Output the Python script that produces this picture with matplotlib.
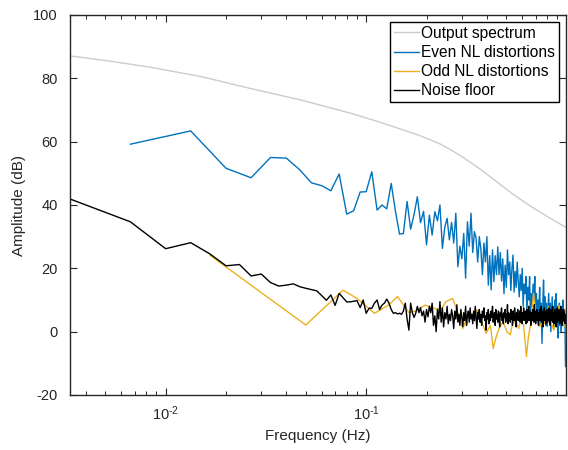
import numpy as np
import matplotlib
matplotlib.use("Agg")
import matplotlib.pyplot as plt
from matplotlib.ticker import FixedLocator, FuncFormatter, LogLocator, NullFormatter

plt.rcParams['font.family'] = ['Liberation Sans', 'DejaVu Sans']
plt.rcParams['mathtext.default'] = 'regular'
plt.rcParams['axes.unicode_minus'] = False

f0 = 1.0 / 300.0  # frequency resolution (Hz)

# Output spectrum (smooth curve): frequency (Hz) and amplitude (dB)
out_f = [0.00333, 0.0053, 0.0084, 0.0149, 0.0265, 0.047, 0.0835, 0.1177, 0.148, 0.180, 0.209,
         0.235, 0.263, 0.305, 0.371, 0.451, 0.543, 0.661, 0.813, 0.987]
out_db = [87.1, 85.4, 83.5, 80.6, 76.8, 73.2, 69.0, 66.1, 64.0, 62.2, 60.6,
          59.2, 57.5, 55.0, 51.3, 47.2, 43.3, 39.6, 36.1, 33.0]

# Even nonlinear distortions (even lines 2..296)
even_db = [59.2, 63.4, 51.6, 48.6, 55.0, 54.8, 51.1, 47.0, 46.1, 44.5,
           49.8, 37.1, 38.2, 44.1, 44.2, 50.5, 38.4, 40.0, 38.8, 46.8,
           38.0, 30.8, 31.0, 41.1, 32.4, 37.0, 42.6, 34.4, 38.0, 27.4,
           36.8, 30.5, 37.9, 35.0, 40.0, 26.3, 33.0, 35.8, 29.0, 34.5,
           28.0, 37.4, 20.5, 27.0, 23.0, 31.0, 16.9, 34.7, 27.0, 37.4,
           25.0, 31.6, 29.5, 22.0, 30.0, 26.0, 18.0, 28.0, 22.0, 30.0,
           14.7, 24.0, 13.2, 25.8, 15.8, 24.0, 18.0, 26.8, 18.0, 25.0,
           16.0, 23.0, 12.0, 21.0, 14.0, 25.8, 18.0, 22.0, 13.0, 20.0,
           24.2, 12.5, 19.0, 14.0, 22.0, 16.0, 11.0, 18.0, 13.0, 20.0,
           8.0, 15.0, 12.0, 17.4, 6.0, 14.0, 10.0, 17.4, 4.0, 12.0,
           8.0, 15.0, 10.0, 17.4, 6.0, 12.0, 3.0, 10.0, 5.8, 14.0,
           2.0, 9.0, -3.7, 8.0, 16.3, 6.0, 11.0, 2.0, 9.0, 1.6,
           7.0, 12.1, 4.0, 9.0, 0.0, 6.0, 11.0, 3.0, 8.0, 1.5,
           10.0, 5.0, 12.0, 3.0, 8.0, -2.0, 6.0, 9.0, 2.0, 7.0,
           0.0, 8.0, 3.0, 10.0, 2.0, 7.0, 4.0, -11.0]
even_k = np.arange(2, 297, 2)

# Odd nonlinear distortions (non-excited odd lines)
odd_k = [5, 15, 23, 27, 33, 39, 43, 49, 53, 59, 65, 71, 75, 81, 87, 91, 97, 103, 107, 113,
         119, 125, 129, 133, 139, 145, 151, 157, 161, 167, 173, 177, 183, 189, 193, 199, 205,
         211, 215, 221, 227, 233, 237, 243, 249, 253, 259, 265, 271, 275, 281, 287, 291, 295]
odd_db = [24.1, 2.1, 13.1, 10.5, 5.8, 8.5, 11.1, 6.0, 6.5, 8.4, 7.4, 7.0, 9.5, 10.5, 5.0, 1.0,
          5.5, 4.0, 6.9, 3.0, -0.5, 2.0, -5.3, -2.0, 1.6, 3.0, 0.0, -1.0, 2.5, 3.7, 1.0, 4.0,
          2.0, -7.9, -2.0, 3.0, 12.1, 6.0, 3.0, 1.6, 4.0, 2.5, 5.0, 7.9, 4.0, 2.0, 0.5, 4.0,
          5.5, 8.4, 5.0, 3.0, 1.6, 7.0]

# Noise floor (all lines 1..296)
noise_db = [41.9, 34.7, 26.2, 28.1, 24.5, 20.8, 21.2, 17.6, 18.2, 15.5,
            14.4, 14.7, 15.1, 14.2, 13.7, 13.3, 12.9, 11.4, 9.9, 11.6,
            8.3, 12.1, 10.7, 9.4, 9.4, 9.6, 9.8, 7.6, 10.0, 5.8,
            7.4, 7.4, 9.0, 10.0, 7.0, 8.4, 9.0, 10.3, 9.0, 7.0,
            5.8, 6.0, 5.6, 5.8, 5.5, 6.5, 9.0, 4.0, 0.5, 9.0,
            6.0, 4.5, 5.8, 8.0, 6.0, 7.6, 5.0, 6.5, 3.0, 7.0,
            4.7, 8.0, 6.0, 9.0, 2.0, 5.0, 0.0, 7.0, 4.0, 9.5,
            3.0, 7.5, 1.5, 6.0, 4.0, 8.0, 2.5, 5.5, 3.5, 7.0,
            5.0, 1.0, 6.5, 4.0, 8.5, 3.0, 5.5, 2.0, 7.0, 4.5,
            1.6, 6.0, 3.5, 8.0, 2.0, 5.0, 6.5, 3.0, 7.5, 4.0,
            5.5, 2.5, 6.5, 3.5, 8.0, 4.5, 1.0, 6.0, 4.0, 7.0,
            3.0, 5.5, 2.0, 6.5, 4.5, 7.5, 3.5, 5.0, 0.5, 6.0,
            4.0, 7.0, 2.5, 5.5, 3.5, 6.5, 4.5, 8.0, 3.0, 5.0,
            6.0, 2.0, 7.0, 4.0, 5.5, 3.0, 6.5, 4.5, 1.5, 6.0,
            5.0, 7.5, 3.5, 5.5, 2.5, 6.0, 4.5, 7.0, 3.0, 5.5,
            4.0, 8.5, 2.5, 6.0, 4.5, 5.5, 3.0, 7.0, 4.0, 6.5,
            2.0, 5.0, 6.5, 3.5, 7.5, 4.5, 5.5, 1.5, 6.0, 4.0,
            7.0, 3.5, 5.5, 4.0, 6.5, 3.0, 8.0, 4.5, 5.0, 2.5,
            6.0, 4.0, 7.5, 3.5, 5.5, 4.5, 6.5, 2.5, 5.0, 7.0,
            3.0, 6.0, 4.5, 8.0, 3.5, 5.0, 6.5, 4.0, 2.0, 6.0,
            5.5, 3.5, 7.0, 4.5, 6.0, 3.0, 8.5, 4.0, 5.5, 2.5,
            6.5, 4.5, 7.0, 3.5, 5.0, 6.0, 2.0, 5.5, 4.0, 7.0,
            3.5, 6.0, 4.5, 8.0, 3.0, 5.5, 6.5, 4.0, 1.5, 6.0,
            5.0, 7.5, 3.5, 5.5, 4.5, 6.5, 2.5, 6.0, 4.0, 7.0,
            3.0, 5.5, 6.5, 4.0, 7.5, 3.5, 5.0, 2.0, 6.0, 4.5,
            7.0, 3.5, 5.5, 4.0, 8.0, 3.0, 6.0, 4.5, 5.5, 2.5,
            6.5, 4.0, 7.0, 3.5, 5.5, 1.5, 6.0, 4.5, 7.5, 3.0,
            5.0, 6.5, 4.0, 7.0, 3.5, 5.5, 2.5, 6.0, 4.5, 8.0,
            3.0, 5.5, 4.0, 6.5, 2.0, 6.0, 4.5, 7.0, 3.5, 5.5,
            4.0, 6.5, 3.0, 5.5, 2.5, 4.5]
noise_k = np.arange(1, len(noise_db) + 1)

labels = ['Output spectrum', 'Even NL distortions', 'Odd NL distortions', 'Noise floor']
colors = ['#CCCCCC', '#0072BD', '#EDB120', '#000000']

fig = plt.figure(figsize=(5.68, 4.5), dpi=100)
ax = fig.add_axes([70 / 568, 1 - 395 / 450, 495.5 / 568, 380 / 450])

ax.plot(out_f, out_db, color=colors[0], lw=1.0, label=labels[0])
ax.plot(even_k * f0, even_db, color=colors[1], lw=1.0, label=labels[1])
ax.plot(np.array(odd_k) * f0, odd_db, color=colors[2], lw=1.0, label=labels[2])
ax.plot(noise_k * f0, noise_db, color=colors[3], lw=1.0, label=labels[3])

ax.set_xscale('log')
ax.set_xlim(1 * f0, 296 * f0)
ax.set_ylim(-20, 100)
ax.yaxis.set_major_locator(FixedLocator([-20, 0, 20, 40, 60, 80, 100]))
ax.xaxis.set_major_locator(FixedLocator([0.01, 0.1]))
ax.xaxis.set_major_formatter(FuncFormatter(
    lambda v, p: '$10^{\u2010%d}$' % abs(int(round(np.log10(v))))))
ax.xaxis.set_minor_locator(LogLocator(base=10, subs=np.arange(2, 10)))
ax.xaxis.set_minor_formatter(NullFormatter())

axc = '#262626'
for s in ax.spines.values():
    s.set_color(axc)
    s.set_linewidth(1.0)
ax.tick_params(which='both', direction='in', top=True, right=True, colors=axc,
               labelsize=10.5, labelcolor='#262626')
ax.tick_params(which='major', length=5, width=0.8)
ax.tick_params(which='minor', length=2.8, width=0.7)
ax.tick_params(axis='x', pad=7)
ax.tick_params(axis='y', pad=9)

ax.set_xlabel('Frequency (Hz)', fontsize=11, color='#262626', labelpad=4)
ax.set_ylabel('Amplitude (dB)', fontsize=11, color='#262626', labelpad=5)

leg = ax.legend(loc='upper right', fontsize=11.2, frameon=True, fancybox=False,
                framealpha=1, edgecolor='#000000', handlelength=1.65,
                handletextpad=0.08, labelspacing=0.27, borderpad=0.25,
                borderaxespad=0.45)
leg.get_frame().set_linewidth(1.0)

fig.savefig('out.png', dpi=100)
